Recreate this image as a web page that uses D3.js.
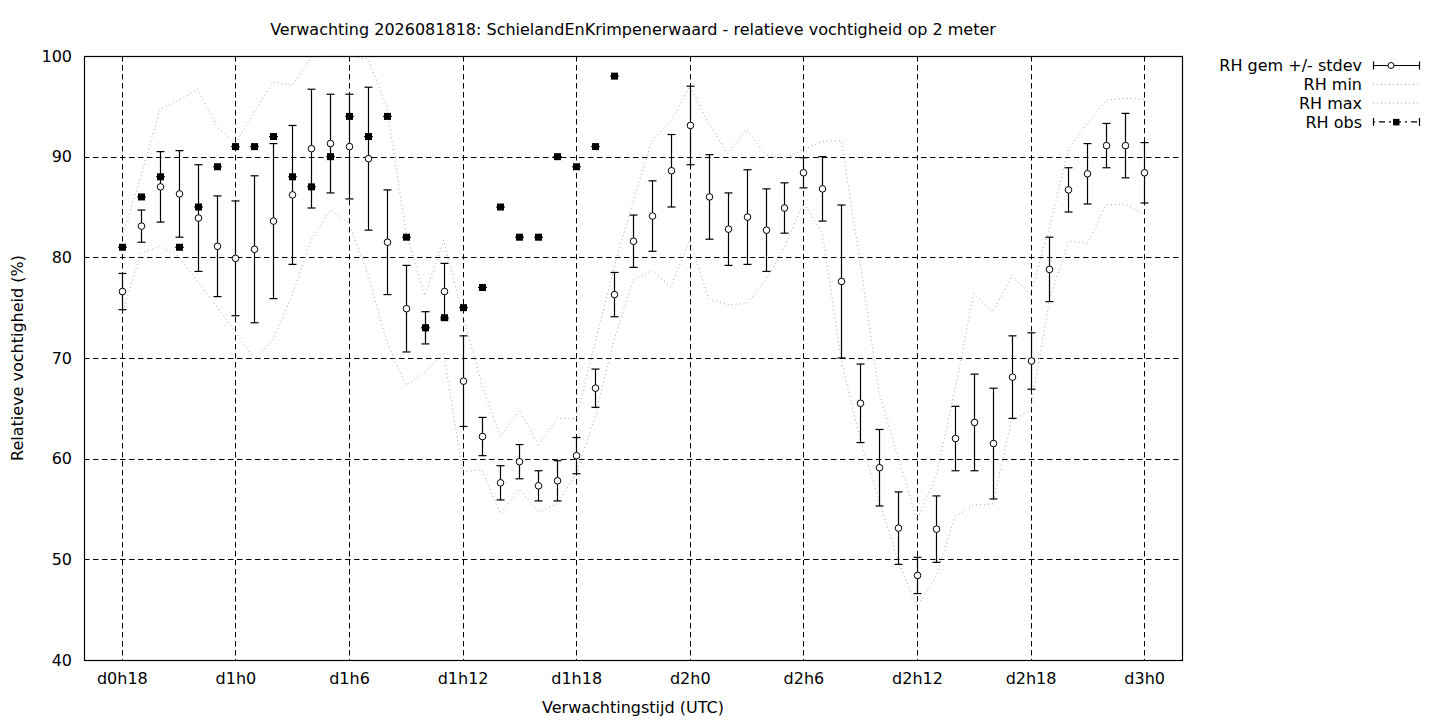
<!DOCTYPE html>
<html>
<head>
<meta charset="utf-8">
<script src="https://cdn.jsdelivr.net/npm/d3@7"></script>
<style>
  body { margin: 0; background: #fff; }
  svg { display: block; font-family: "DejaVu Sans", sans-serif; }
</style>
</head>
<body>
<svg id="chart" width="1440" height="720"></svg>
<script>
// forecast hours since d0h0
const hours = [18, 19, 20, 21, 22, 23, 24, 25, 26, 27, 28, 29, 30, 31, 32, 33, 34, 35, 36,
    37, 38, 39, 40, 41, 42, 43, 44, 45, 46, 47, 48, 49, 50, 51, 52, 53, 54, 55, 56, 57,
    58, 59, 60, 61, 62, 63, 64, 65, 66, 67, 68, 69, 70, 71, 72];

const rhMean = [76.6, 83.1, 87.0, 86.3, 83.9, 81.1, 79.9, 80.8, 83.6, 86.2, 90.8, 91.3, 91.0,
    89.8, 81.5, 74.9, 73.0, 76.6, 67.7, 62.2, 57.6, 59.7, 57.3, 57.8, 60.3, 67.0, 76.3,
    81.6, 84.1, 88.6, 93.1, 86.0, 82.8, 84.0, 82.7, 84.9, 88.4, 86.8, 77.6, 65.5, 59.1,
    53.1, 48.4, 53.0, 62.0, 63.6, 61.5, 68.1, 69.7, 78.8, 86.7, 88.3, 91.1, 91.1, 88.4];

const rhStdev = [1.8, 1.6, 3.5, 4.3, 5.3, 5.0, 5.7, 7.3, 7.7, 6.9, 5.9, 4.9, 5.2, 7.1, 5.2,
    4.3, 1.6, 2.8, 4.5, 1.9, 1.7, 1.7, 1.5, 2.0, 1.8, 1.9, 2.2, 2.6, 3.5, 3.6, 3.9, 4.2,
    3.6, 4.7, 4.1, 2.5, 1.5, 3.2, 7.6, 3.9, 3.8, 3.6, 1.8, 3.3, 3.2, 4.8, 5.5, 4.1, 2.8,
    3.2, 2.2, 3.0, 2.2, 3.2, 3.0];

const rhMin = [74.3, 80.4, 81.1, 80.1, 77.6, 75.1, 72.6, 69.9, 71.8, 76.3, 81.7, 84.7, 83.4,
    78.3, 71.6, 67.3, 68.6, 70.5, 58.7, 58.9, 54.5, 57.0, 54.7, 55.5, 58.5, 64.2, 71.8,
    77.7, 78.7, 77.1, 81.7, 75.9, 75.3, 75.4, 77.7, 81.0, 85.4, 82.4, 69.8, 61.9, 55.9,
    49.9, 45.3, 48.3, 54.2, 55.4, 55.5, 63.8, 64.8, 75.8, 81.6, 81.4, 85.2, 85.3, 84.2];

const rhMax = [82.0, 88.0, 94.7, 95.6, 96.7, 93.0, 91.3, 94.5, 97.4, 97.1, 99.9, 100, 100,
    99.7, 95.0, 82.5, 76.2, 81.7, 74.4, 67.5, 62.2, 64.8, 61.4, 64.0, 64.0, 71.5, 79.0,
    85.5, 91.6, 93.5, 97.0, 93.3, 90.3, 92.7, 90.2, 89.8, 90.7, 91.5, 91.6, 79.5, 66.5,
    60.2, 53.9, 58.2, 66.8, 76.4, 74.6, 78.1, 76.4, 83.0, 90.7, 93.3, 95.6, 95.8, 95.7];

// observations only up to d1h20
const obsHours = [18, 19, 20, 21, 22, 23, 24, 25, 26, 27, 28, 29, 30, 31, 32, 33, 34, 35,
    36, 37, 38, 39, 40, 41, 42, 43, 44];
const rhObs = [81, 86, 88, 81, 85, 89, 91, 91, 92, 88, 87, 90, 94, 92, 94, 82, 73, 74, 75,
    77, 85, 82, 82, 90, 89, 91, 98];

const xTicks = [18, 24, 30, 36, 42, 48, 54, 60, 66, 72];
const yTicks = [40, 50, 60, 70, 80, 90, 100];

const svg = d3.select('#chart');
const plot = { left: 84, right: 1182, top: 56, bottom: 660 };
const fontSize = 16;

const x = d3.scaleLinear().domain([16, 74]).range([plot.left, plot.right]);
const y = d3.scaleLinear().domain([40, 100]).range([plot.bottom, plot.top]);

const tickLabel = h => 'd' + Math.floor(h / 24) + 'h' + (h % 24);

// grid
const grid = svg.append('g').attr('stroke', '#000').attr('stroke-width', 1)
    .attr('stroke-dasharray', '5.5,3.5');
grid.selectAll('line.gx')
    .data(xTicks)
    .enter().append('line')
    .attr('x1', d => Math.round(x(d)) + 0.5).attr('x2', d => Math.round(x(d)) + 0.5)
    .attr('y1', plot.top).attr('y2', plot.bottom);
grid.selectAll('line.gy')
    .data(yTicks.filter(d => d > 40 && d < 100))
    .enter().append('line')
    .attr('x1', plot.left).attr('x2', plot.right)
    .attr('y1', d => Math.round(y(d)) + 0.5).attr('y2', d => Math.round(y(d)) + 0.5);

// axes
const xAxis = d3.axisBottom(x).tickValues(xTicks).tickFormat(tickLabel).tickSize(0).tickPadding(13);
const yAxis = d3.axisLeft(y).tickValues(yTicks).tickSize(0).tickPadding(12);

svg.append('g').attr('transform', `translate(0,${plot.bottom})`).call(xAxis)
    .call(g => g.select('.domain').remove())
    .selectAll('text').attr('font-size', fontSize).attr('fill', '#000')
    .attr('font-family', '"DejaVu Sans", sans-serif');
svg.append('g').attr('transform', `translate(${plot.left},0)`).call(yAxis)
    .call(g => g.select('.domain').remove())
    .selectAll('text').attr('font-size', fontSize).attr('fill', '#000')
    .attr('font-family', '"DejaVu Sans", sans-serif');

// min / max lines
const line = vals => d3.line()
    .x((d, i) => x(hours[i]))
    .y(d => y(d))(vals);

[rhMin, rhMax].forEach(vals => {
    svg.append('path')
        .attr('d', line(vals))
        .attr('fill', 'none')
        .attr('stroke', '#a8a8a8')
        .attr('stroke-width', 1)
        .attr('stroke-dasharray', '1,3');
});

// mean +/- stdev error bars
const bars = svg.append('g').attr('stroke', '#000').attr('stroke-width', 1.2);
hours.forEach((h, i) => {
    const cx = Math.round(x(h)) + 0.5;
    const lo = y(rhMean[i] - rhStdev[i]);
    const hi = y(rhMean[i] + rhStdev[i]);
    bars.append('line').attr('x1', cx).attr('x2', cx).attr('y1', lo).attr('y2', hi);
    bars.append('line').attr('x1', cx - 4).attr('x2', cx + 4).attr('y1', lo).attr('y2', lo);
    bars.append('line').attr('x1', cx - 4).attr('x2', cx + 4).attr('y1', hi).attr('y2', hi);
});
svg.append('g').selectAll('circle')
    .data(rhMean)
    .enter().append('circle')
    .attr('cx', (d, i) => Math.round(x(hours[i])) + 0.5)
    .attr('cy', d => y(d))
    .attr('r', 3.3)
    .attr('fill', '#fff')
    .attr('stroke', '#000')
    .attr('stroke-width', 1);

// observations
const obs = svg.append('g');
obsHours.forEach((h, i) => {
    const cx = Math.round(x(h)) + 0.5;
    const cy = y(rhObs[i]);
    obs.append('line').attr('x1', cx - 4.5).attr('x2', cx + 4.5).attr('y1', cy).attr('y2', cy)
        .attr('stroke', '#000').attr('stroke-width', 1);
    obs.append('rect').attr('x', cx - 3.5).attr('y', cy - 3.5)
        .attr('width', 7).attr('height', 7).attr('fill', '#000');
});

// frame
svg.append('rect')
    .attr('x', plot.left + 0.5).attr('y', plot.top + 0.5)
    .attr('width', plot.right - plot.left).attr('height', plot.bottom - plot.top)
    .attr('fill', 'none').attr('stroke', '#000').attr('stroke-width', 1.2);

// titles
svg.append('text').attr('x', 633).attr('y', 35).attr('text-anchor', 'middle')
    .attr('font-size', fontSize)
    .text('Verwachting 2026081818: SchielandEnKrimpenerwaard - relatieve vochtigheid op 2 meter');
svg.append('text').attr('x', 633).attr('y', 713).attr('text-anchor', 'middle')
    .attr('font-size', fontSize).text('Verwachtingstijd (UTC)');
svg.append('text').attr('transform', 'translate(23,358) rotate(-90)')
    .attr('text-anchor', 'middle').attr('font-size', fontSize)
    .text('Relatieve vochtigheid (%)');

// legend
const legendItems = ['RH gem +/- stdev', 'RH min', 'RH max', 'RH obs'];
const legend = svg.append('g');
legendItems.forEach((name, i) => {
    const ly = 65.5 + i * 18.8;
    legend.append('text').attr('x', 1362).attr('y', ly).attr('dy', '0.36em')
        .attr('text-anchor', 'end').attr('font-size', fontSize).text(name);
    const sample = legend.append('g');
    if (i === 0 || i === 3) {
        sample.append('line').attr('x1', 1373).attr('x2', 1420).attr('y1', ly).attr('y2', ly)
            .attr('stroke', '#000').attr('stroke-width', 1.2)
            .attr('stroke-dasharray', i === 3 ? '2,4,6,4' : null);
        [1373.5, 1419.5].forEach(cx => sample.append('line')
            .attr('x1', cx).attr('x2', cx).attr('y1', ly - 4).attr('y2', ly + 4)
            .attr('stroke', '#000').attr('stroke-width', 1.2));
        if (i === 0) {
            sample.append('circle').attr('cx', 1391).attr('cy', ly).attr('r', 3)
                .attr('fill', '#fff').attr('stroke', '#000');
        } else {
            sample.append('rect').attr('x', 1393).attr('y', ly - 3).attr('width', 6.5)
                .attr('height', 6.5).attr('fill', '#000');
        }
    } else {
        sample.append('line').attr('x1', 1373).attr('x2', 1420).attr('y1', ly).attr('y2', ly)
            .attr('stroke', '#a8a8a8').attr('stroke-width', 1).attr('stroke-dasharray', '1,3');
    }
});
</script>
</body>
</html>
